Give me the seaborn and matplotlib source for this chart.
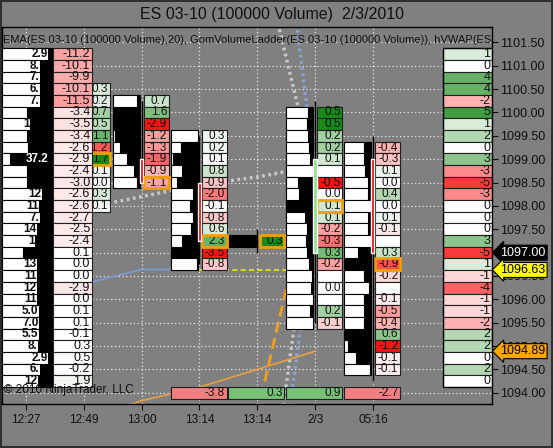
# ES 03-10 成交量阶梯图（NinjaTrader 风格）
import matplotlib
matplotlib.use('Agg')
import matplotlib.pyplot as plt
import matplotlib.transforms as mtransforms
import seaborn as sns
import numpy as np

sns.set_style("ticks")
plt.rcParams['font.family'] = ['Liberation Sans', 'DejaVu Sans']

TICK = 0.25
nan = np.nan

bar_labels = ['12:27', '12:49', '13:00', '13:14', '13:14', '2/3', '05:16']

# 左侧成交量分布（1101.25 往下）
profile_top = 1101.25
profile_white = [0.92, 0.76, 0.76, 0.76, 0.76, 0.50, 0.56, 0.50, 0.52, 0.16,
                 0.50, 0.50, 0.80, 0.74, 0.76, 0.70, 0.66, 0.42, 0.70, 0.70,
                 0.70, 0.70, 0.74, 0.74, 0.74, 0.72, 0.92, 0.76, 0.72]
profile_text = ['2.9', '8.', '7.', '6.', '7.', '', '1', '', '', '37.2',
                '', '', '12', '11', '7.', '14', '1', '', '13', '11',
                '12', '11', '5.0', '7.0', '5.5', '8.', '2.9', '6.', '12']
profile_delta = [-11.2, -10.1, -9.9, -10.1, -11.5, -3.4, -3.5, -3.4, -2.6, -2.9,
                 -2.4, -3.0, -2.6, -2.6, -2.7, -2.5, -2.4, 0.1, 0.0, 0.0,
                 -2.9, 0.0, 0.1, 0.1, -0.1, 0.3, 0.5, -0.2, 1.9]

# 每根K线的阶梯数据
bar1_top = 1100.50
bar1_delta = [0.3, 0.2, 0.7, 0.5, 1.1, -1.2, 1.7, 0.1, 0.0, 0.3, 0.1]

bar2_top = 1100.25
bar2_white = [0.89, 0.05, 0.05, 0.10, 0.27, 0.52, 0.77, 0.89]
bar2_delta = [0.7, 1.6, -2.9, -1.2, -1.3, -1.9, -0.9, -1.1]

bar3_top = 1099.50
bar3_white = [1.0, 0.37, 0.10, 0.43, 0.24, 0.83, 0.70, 0.83, 0.76, 0.43, 0.0, 0.96]
bar3_delta = [0.3, 0.2, 0.1, 0.8, -0.9, -2.0, -0.1, -0.8, 0.6, 2.3, -3.5, -0.8]

bar4_top = 1097.25
bar4_white = [0.0]
bar4_delta = [0.3]

bar5_top = 1100.00
bar5_white = [0.81, 0.75, 0.81, 0.85, 0.88, 1.0, 0.44, 0.48, 0.0, 0.69,
              0.75, 0.72, 0.75, 0.85, 0.94, 0.90, 1.0, 0.88, 1.0]
bar5_delta = [0.5, 0.5, 0.2, 0.2, 0.1, nan, -0.5, 0.0, 0.1, 0.1,
              -0.2, -0.3, 0.3, -0.2, nan, 0.0, nan, 0.2, -0.1]

bar6_top = 1099.25
bar6_white = [0.72, 0.72, 0.78, 0.90, 0.87, 1.0, 0.90, 0.90, 1.0, 0.50,
              0.0, 0.72, 0.93, 0.72, 0.72, 0.72, 0.0, 0.15, 0.44, 0.95]
bar6_delta = [-0.4, -0.3, 0.1, 0.0, 0.4, 0.0, 0.1, -0.1, nan, 0.3,
              -0.9, -0.2, nan, -0.1, -0.5, -0.4, 0.6, -1.2, -0.1, -0.1]

# 每根K线的汇总 delta
summary_bars = [3, 4, 5, 6]
summary_vals = [-3.8, 0.3, 0.9, -2.7]

# K线
candle_bars = [2, 3, 4, 5, 6]
candle_open = [1099.0, 1098.5, 1097.25, 1097.0, 1099.0]
candle_close = [1098.5, 1097.25, 1097.25, 1099.0, 1097.0]
candle_high = [1100.25, 1099.5, 1097.5, 1100.25, 1099.5]
candle_low = [1098.5, 1096.75, 1097.0, 1095.5, 1094.25]

# 右侧价格分布
ladder_top = 1101.25
ladder_vals = [1, 0, 4, 4, -2, 5, 1, 2, 0, 3, -3, -5, -3, 0, 0, 0, 3, -5, 1,
               -1, -4, -1, -1, -2, 2, 2, 0, 2, 0]

# 指标线
ema_x = [1, 2, 3, 4, 5]
ema_y = [1097.95, 1098.2, 1098.45, 1098.62, 1098.85]
band_x = [4, 5]
band_up_gray = [1103.75, 1098.6]
band_up_blue = [1108.9, 1098.65]
band_lo_gray = [1089.6, 1098.7]
band_lo_blue = [1088.3, 1097.8]
hvwap_x = [0.5, 1, 2, 3]
hvwap_y = [1096.2, 1096.33, 1096.64, 1096.64]
vwap_x = [3, 5]
vwap_y = [1096.63, 1096.63]
orange_dash_x = [4, 5]
orange_dash_y = [1093.55, 1098.9]
orange_x = [1, 2, 3, 4, 5]
orange_y = [1093.4, 1093.83, 1094.12, 1094.5, 1094.89]

markers = [(1097.00, '1097.00', 'black', 'white'),
           (1096.63, '1096.63', '#ffff00', 'black'),
           (1094.89, '1094.89', '#ffa500', 'black')]

GRAY = '#808080'
GREEN = (0.10, 0.54, 0.10)
RED = (0.98, 0.08, 0.08)


def shade(v, scale):
    if np.isnan(v):
        return (1, 1, 1)
    t = min(abs(v) / scale, 1.0)
    tgt = GREEN if v > 0 else RED
    return tuple(1 - t * (1 - c) for c in tgt)


def rows(top, n):
    return top - TICK * np.arange(n)


def draw_ladder(ax, left, width, top, white, z=3):
    p = rows(top, len(white))
    ax.barh(p, width, left=left, height=TICK, color='black', edgecolor='black', lw=0.8, zorder=z)
    ax.barh(p, np.array(white) * width, left=left, height=TICK, color='white',
            edgecolor='black', lw=0.8, zorder=z + 0.1)
    return p


def draw_delta(ax, left, width, top, vals, scale, hl=None, z=3, fs=8.5, fmt='{:.1f}'):
    p = rows(top, len(vals))
    cols = [shade(v, scale) for v in vals]
    ax.barh(p, width, left=left, height=TICK, color=cols, edgecolor='#202020', lw=0.8, zorder=z)
    for pi, v in zip(p, vals):
        if not np.isnan(v):
            ax.text(left + width - 0.03, pi, fmt.format(v), ha='right', va='center',
                    fontsize=fs, color='#101010', zorder=z + 0.2)
    if hl is not None:
        ax.barh(p[hl], width, left=left, height=TICK, fill=False, edgecolor='#f0a000',
                lw=2, zorder=z + 0.3)


fig = plt.figure(figsize=(5.53, 4.48), dpi=100, facecolor=GRAY)
fig.patch.set_edgecolor('#303030')
fig.patch.set_linewidth(1.5)
ax = fig.add_axes([2 / 553, 1 - 404 / 448, 490 / 553, 377 / 448])
ax.set_facecolor(GRAY)
ax.set_xlim(-0.415, 8.06)
ax.set_ylim(1093.76, 1101.83)

# 网格
ax.set_axisbelow(True)
ax.grid(True, color='#e8e8e8', lw=0.9, linestyle=(0, (1, 2)))

# 指标线
line_kw = dict(ax=ax, sort=False, legend=False, zorder=2)
sns.lineplot(x=ema_x, y=ema_y, color='#c8c8c8', lw=2.5, linestyle=(0, (0.8, 1.0)), **line_kw)
sns.lineplot(x=band_x, y=band_up_gray, color='#c8c8c8', lw=2.5, linestyle=(0, (0.8, 1.0)), **line_kw)
sns.lineplot(x=band_x, y=band_lo_gray, color='#c8c8c8', lw=2.5, linestyle=(0, (0.8, 1.0)), **line_kw)
sns.lineplot(x=band_x, y=band_up_blue, color='#8aa4d0', lw=2.5, linestyle=(0, (0.8, 1.0)), **line_kw)
sns.lineplot(x=band_x, y=band_lo_blue, color='#8aa4d0', lw=2.5, linestyle=(0, (0.8, 1.0)), **line_kw)
sns.lineplot(x=hvwap_x, y=hvwap_y, color='#7f9bd0', lw=1.3, **line_kw)
sns.lineplot(x=vwap_x, y=vwap_y, color='#f5e800', lw=1.2, linestyle=(0, (3, 2)), **line_kw)
sns.lineplot(x=orange_dash_x, y=orange_dash_y, color='#f0a020', lw=2, linestyle=(0, (4, 2)), **line_kw)
sns.lineplot(x=orange_x, y=orange_y, color='#e8a040', lw=1.2, **line_kw)

# 12:49 的 delta 列（被左侧分布部分遮挡）
draw_delta(ax, 1.06, 0.39, bar1_top, bar1_delta, 1.7, hl=6, z=2.6)

# 左侧分布
p0 = draw_ladder(ax, -0.415, 0.865, profile_top, profile_white, z=3)
for pi, w, t in zip(p0, profile_white, profile_text):
    if not t:
        continue
    if w < 0.3:
        ax.text(-0.415 + 0.80, pi, t, ha='right', va='center', fontsize=8.5,
                fontweight='bold', color='white', zorder=3.5)
    else:
        ax.text(-0.415 + w * 0.865 - 0.01, pi, t, ha='right', va='center', fontsize=8.5,
                fontweight='bold', color='#101010', zorder=3.5)
draw_delta(ax, 0.467, 0.675, profile_top, profile_delta, 28, z=3, fs=9)

# 各K线阶梯
bars = [(2, bar2_top, bar2_white, bar2_delta, 2.9, 7),
        (3, bar3_top, bar3_white, bar3_delta, 3.5, 9),
        (4, bar4_top, bar4_white, bar4_delta, 0.3, 0),
        (5, bar5_top, bar5_white, bar5_delta, 0.5, 8),
        (6, bar6_top, bar6_white, bar6_delta, 1.2, 10)]
for i, top, white, delta, sc, hl in bars:
    draw_ladder(ax, i - 0.5, 0.47, top, white, z=3)
    draw_delta(ax, i + 0.04, 0.43, top, delta, sc, hl=hl, z=3)

# K线实体与影线
ax.vlines(candle_bars, candle_low, candle_high, color='black', lw=1, zorder=4.5)
for i, o, c in zip(candle_bars, candle_open, candle_close):
    if o != c:
        ax.bar(i, abs(c - o), bottom=min(o, c), width=0.055,
               color='#e00000' if c < o else '#90e090', zorder=4.6)

# 汇总行
for i, v in zip(summary_bars, summary_vals):
    ax.barh(1094.0, 0.97, left=i - 0.5, height=TICK, color='#78c078' if v > 0 else '#f08080',
            edgecolor='#202020', lw=0.8, zorder=3)
    ax.text(i + 0.44, 1094.0, f'{v:.1f}', ha='right', va='center', fontsize=8.5,
            color='#101010', zorder=3.2)

# 右侧价格分布
draw_delta(ax, 7.21, 0.85, ladder_top, ladder_vals, 6, z=3, fs=9, fmt='{:.0f}')
pr = rows(ladder_top, len(ladder_vals))
ax.barh((pr[0] + pr[-1]) / 2, 0.85, left=7.21, height=pr[0] - pr[-1] + TICK,
        fill=False, edgecolor='black', lw=1, zorder=3.5)

# 坐标轴
ax.set_xticks(range(len(bar_labels)))
ax.set_xticklabels(bar_labels)
ax.set_yticks(np.arange(1094.0, 1101.51, 0.5))
ax.set_yticklabels([f'{v:.2f}' for v in np.arange(1094.0, 1101.51, 0.5)])
ax.yaxis.tick_right()
ax.tick_params(axis='x', length=4, pad=3, labelsize=8.5, colors='#101010')
ax.tick_params(axis='y', length=4, pad=1.5, labelsize=9, colors='#101010')
for s in ax.spines.values():
    s.set_visible(True)
    s.set_color('black')
    s.set_linewidth(1)

# 价格标记
trans = mtransforms.blended_transform_factory(ax.transAxes, ax.transData)
for price, txt, fc, tc in markers:
    ax.annotate(txt, xy=(1, price), xycoords=trans, xytext=(6, 0), textcoords='offset points',
                ha='left', va='center', fontsize=9, color=tc, annotation_clip=False, zorder=10,
                bbox=dict(boxstyle='larrow,pad=0.12', fc=fc, ec='black', lw=0.8))

# 文本
ax.text(0.002, 0.965, 'EMA(ES 03-10 (100000 Volume),20), GomVolumeLadder(ES 03-10 (100000 Volume)), '
        'hVWAP(ES 03-10 (100000 Volume))', transform=ax.transAxes, ha='left', va='center',
        fontsize=8, color='#101010', clip_on=True, zorder=8)
ax.text(0.004, 0.037, '© 2010 NinjaTrader, LLC', transform=ax.transAxes, ha='left', va='center',
        fontsize=8.5, color='#101010', zorder=8)
fig.text(272 / 553, 1 - 14 / 448, 'ES 03-10 (100000 Volume)  2/3/2010', ha='center', va='center',
         fontsize=11.5, color='#101010')

fig.savefig('out.png', dpi=100, facecolor=GRAY, edgecolor='#303030')
